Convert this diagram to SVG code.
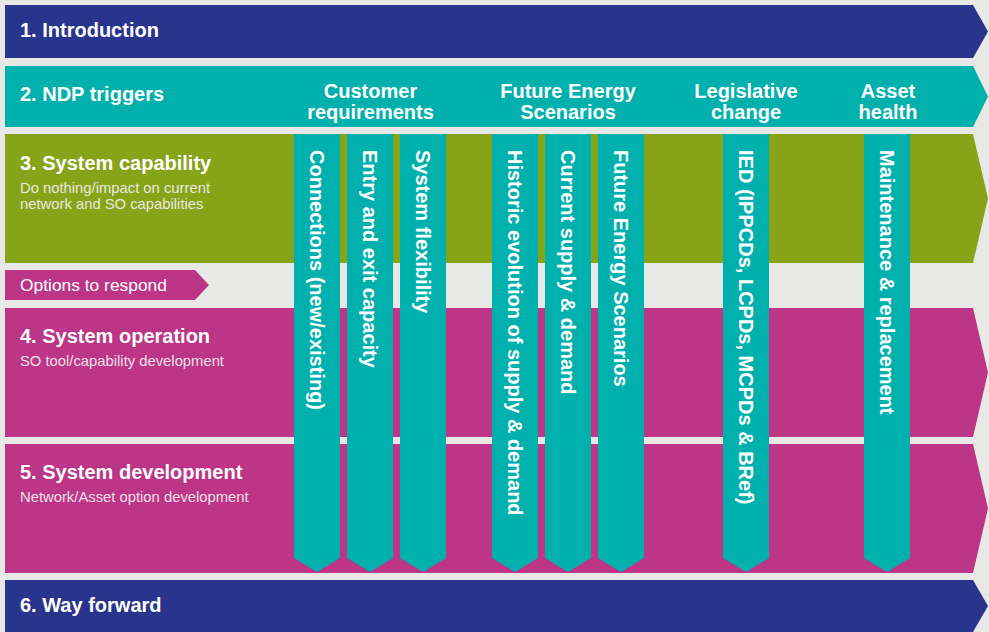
<svg xmlns="http://www.w3.org/2000/svg" width="989" height="632" viewBox="0 0 989 632">
<style>
.bg{fill:#e8e8e6}
.navy{fill:#29358c}
.teal{fill:#00b0ad}
.green{fill:#87a317}
.mag{fill:#bc3587}
text{font-family:"Liberation Sans",Arial,Helvetica,sans-serif;fill:#ffffff}
.h{font-size:20px;font-weight:bold}
.hc{font-size:20px;font-weight:bold;text-anchor:middle}
.sub{font-size:14.8px;fill:#f6eef3;opacity:0.92}
.opt{font-size:17.4px}
.v{font-size:20px;font-weight:bold}
</style>
<rect class="bg" x="0" y="0" width="989" height="632"/>

<g id="band1">
<polygon class="navy" points="5,5 973,5 988,31.5 973,58 5,58"/>
<text class="h" x="20" y="37">1. Introduction</text>
</g>

<g id="band2">
<polygon class="teal" points="5,66 973,66 988,96.5 973,127 5,127"/>
<text class="h" x="20" y="101">2. NDP triggers</text>
<text class="hc" x="370.5" y="98">Customer</text>
<text class="hc" x="370.5" y="119">requirements</text>
<text class="hc" x="568" y="98">Future Energy</text>
<text class="hc" x="568" y="119">Scenarios</text>
<text class="hc" x="746" y="98">Legislative</text>
<text class="hc" x="746" y="119">change</text>
<text class="hc" x="888" y="98">Asset</text>
<text class="hc" x="888" y="119">health</text>
</g>

<g id="band3">
<polygon class="green" points="5,134 973,134 988,198.5 973,263 5,263"/>
<text class="h" x="20" y="170">3. System capability</text>
<text class="sub" x="20" y="193">Do nothing/impact on current</text>
<text class="sub" x="20" y="209">network and SO capabilities</text>
</g>

<g id="options">
<polygon class="mag" points="5,270 195,270 209,285 195,300 5,300"/>
<text class="opt" x="20" y="291">Options to respond</text>
</g>

<g id="band4">
<polygon class="mag" points="5,308 973,308 988,372.5 973,437 5,437"/>
<text class="h" x="20" y="343">4. System operation</text>
<text class="sub" x="20" y="366">SO tool/capability development</text>
</g>

<g id="band5">
<polygon class="mag" points="5,444 973,444 988,508.5 973,573 5,573"/>
<text class="h" x="20" y="479">5. System development</text>
<text class="sub" x="20" y="502">Network/Asset option development</text>
</g>

<g id="band6">
<polygon class="navy" points="5,580 973,580 988,606 973,632 5,632"/>
<text class="h" x="20" y="612">6. Way forward</text>
</g>

<g id="col1">
<polygon class="teal" points="294,134 340,134 340,558 317,572 294,558"/>
<text class="v" transform="translate(310,150) rotate(90)">Connections (new/existing)</text>
</g>
<g id="col2">
<polygon class="teal" points="347,134 393,134 393,558 370,572 347,558"/>
<text class="v" transform="translate(363,150) rotate(90)">Entry and exit capacity</text>
</g>
<g id="col3">
<polygon class="teal" points="400,134 446,134 446,558 423,572 400,558"/>
<text class="v" transform="translate(416,150) rotate(90)">System flexibility</text>
</g>
<g id="col4">
<polygon class="teal" points="492,134 538,134 538,558 515,572 492,558"/>
<text class="v" transform="translate(508,150) rotate(90)">Historic evolution of supply &amp; demand</text>
</g>
<g id="col5">
<polygon class="teal" points="545,134 591,134 591,558 568,572 545,558"/>
<text class="v" transform="translate(561,150) rotate(90)">Current supply &amp; demand</text>
</g>
<g id="col6">
<polygon class="teal" points="598,134 644,134 644,558 621,572 598,558"/>
<text class="v" transform="translate(614,150) rotate(90)">Future Energy Scenarios</text>
</g>
<g id="col7">
<polygon class="teal" points="723,134 769,134 769,558 746,572 723,558"/>
<text class="v" transform="translate(739,150) rotate(90)">IED (IPPCDs, LCPDs, MCPDs &amp; BRef)</text>
</g>
<g id="col8">
<polygon class="teal" points="864,134 910,134 910,558 887,572 864,558"/>
<text class="v" transform="translate(880,150) rotate(90)">Maintenance &amp; replacement</text>
</g>
</svg>
